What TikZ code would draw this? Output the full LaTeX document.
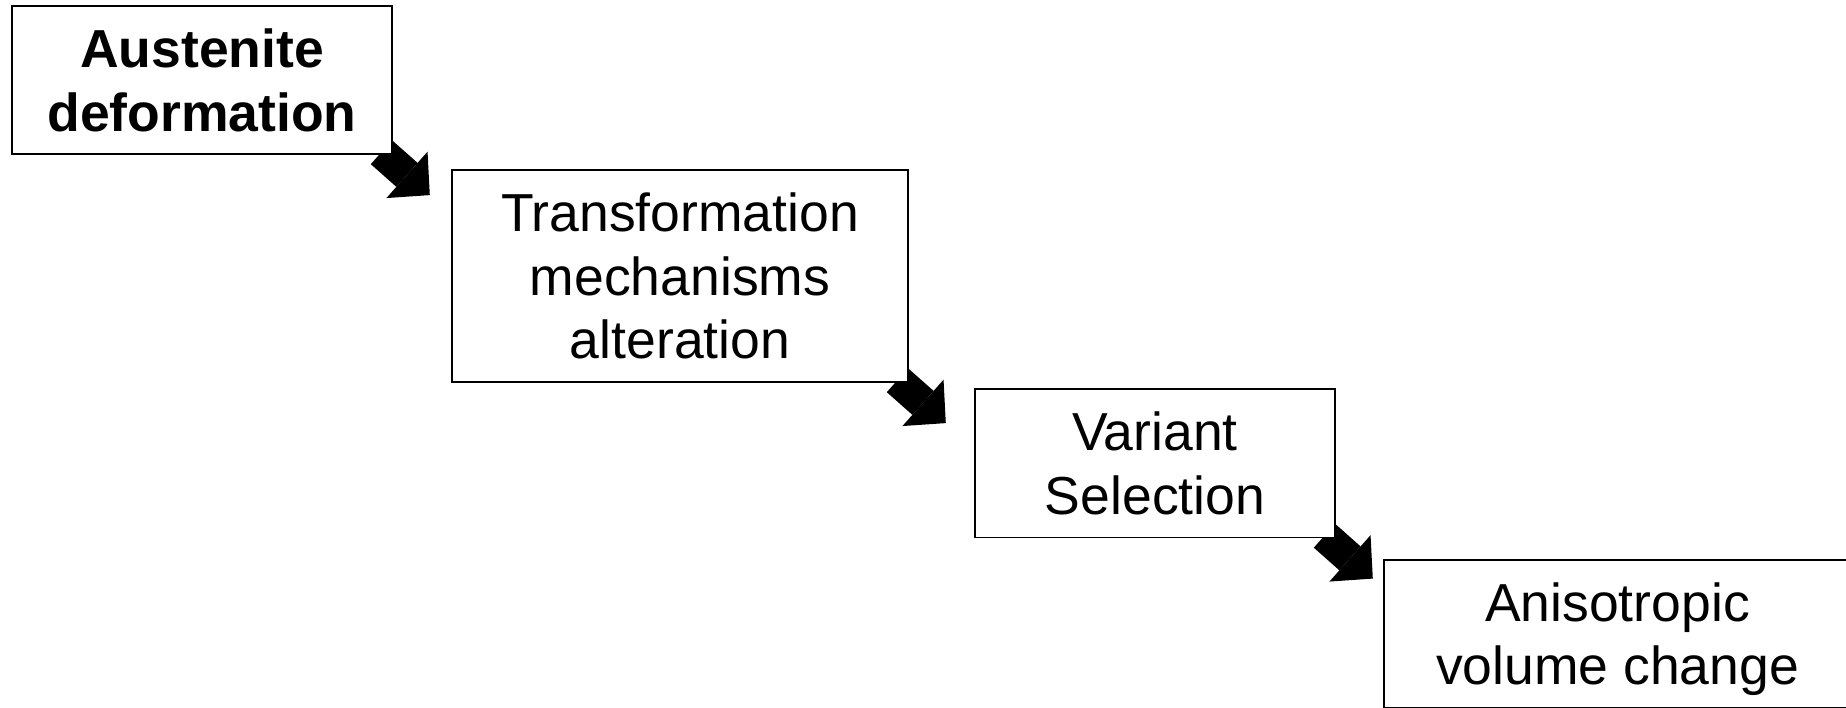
\documentclass[tikz,border=0pt]{standalone}
\usepackage{fontspec}
\setmainfont{Liberation Sans}
\usetikzlibrary{arrows.meta,backgrounds,calc}
\begin{document}
\begin{tikzpicture}[x=1pt,y=-1pt,
  box/.style={draw=black, line width=1.8pt, fill=white, inner sep=0pt,
    align=center, text depth=0pt},
  boxfont/.style={font=\fontsize{53.5}{63.6}\selectfont},
  boxfontbold/.style={font=\fontsize{53.5}{63.6}\selectfont\bfseries},
  blockarrow/.style={draw=black, line width=32pt,
    -{Triangle[width=62pt,length=30.5pt,line width=0pt]}}]
\useasboundingbox (0,0) rectangle (1846,708);
\clip (0,0) rectangle (1846,708);
\node[box, boxfontbold, minimum width=380pt, minimum height=148pt] (b1) at (202,80)
  {Austenite\\deformation};
\node[box, boxfont, minimum width=456pt, minimum height=212pt] (b2) at (680,276)
  {Transformation\\mechanisms\\alteration};
\node[box, boxfont, minimum width=360pt, minimum height=148.5pt] (b3) at (1155,463.25)
  {Variant\\Selection};
\node[box, boxfont, minimum width=467pt, minimum height=147.5pt] (b4) at (1617.5,633.75)
  {Anisotropic\\volume change};
\coordinate (a1s) at ($(b1.south east)+(-11.5,-2.7)$);
\coordinate (a1e) at ($(b1.south east)+(36.9,40.2)$);
\coordinate (a2s) at ($(b2.south east)+(-11.5,-2.7)$);
\coordinate (a2e) at ($(b2.south east)+(36.9,40.2)$);
\coordinate (a3s) at ($(b3.south east)+(-11.5,-2.7)$);
\coordinate (a3e) at ($(b3.south east)+(36.9,40.2)$);
\begin{scope}[on background layer]
  \draw[blockarrow] (a1s) -- (a1e);
  \draw[blockarrow] (a2s) -- (a2e);
  \draw[blockarrow] (a3s) -- (a3e);
\end{scope}
\end{tikzpicture}
\end{document}
